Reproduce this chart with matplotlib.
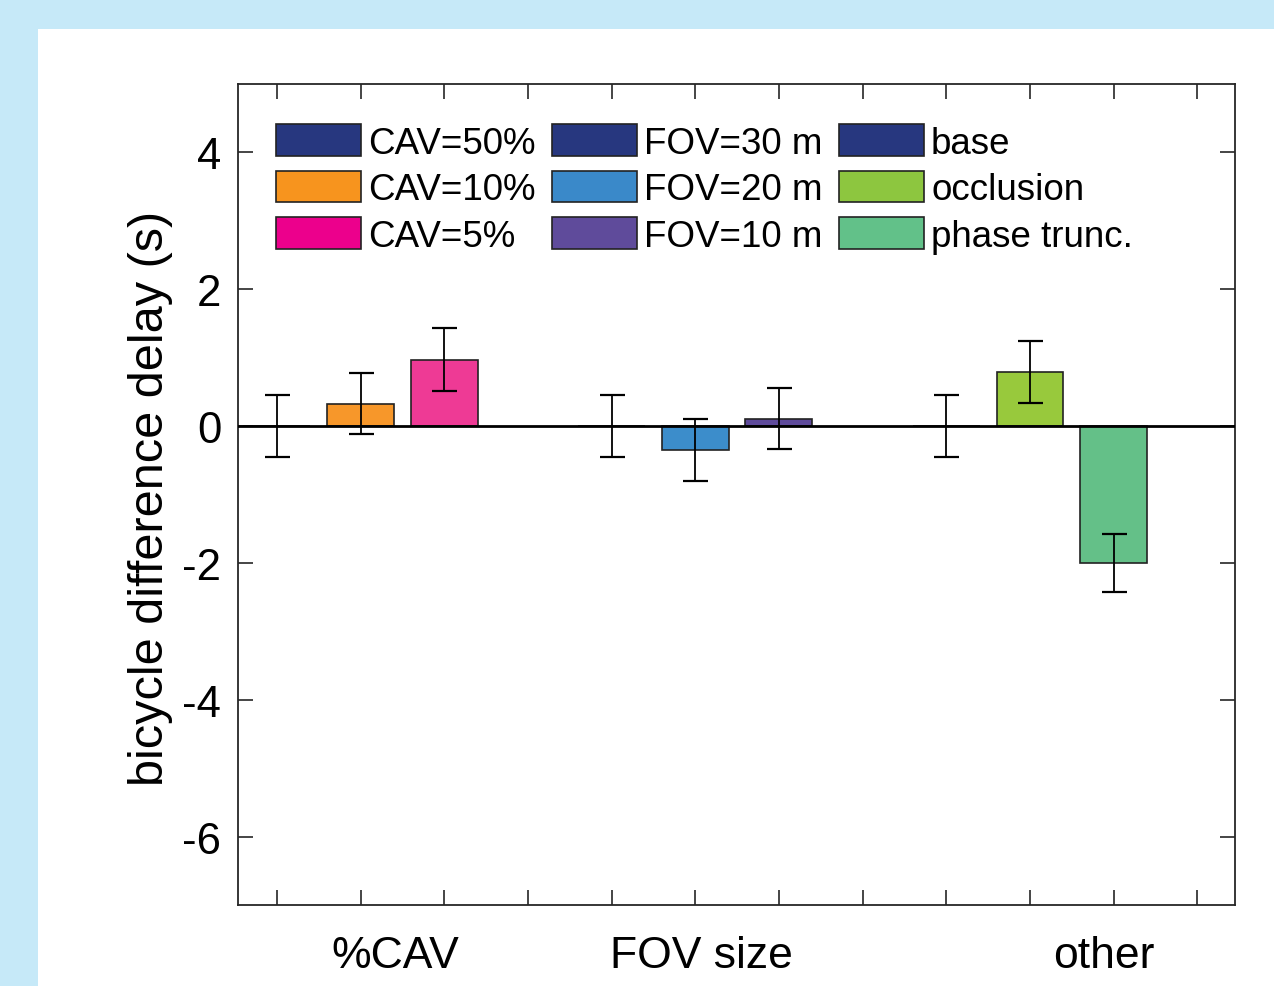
import matplotlib
matplotlib.use("Agg")
import matplotlib.pyplot as plt
from matplotlib.patches import Patch, Rectangle
from matplotlib.transforms import blended_transform_factory

plt.rcParams['font.family'] = ['Liberation Sans', 'DejaVu Sans']
plt.rcParams['axes.unicode_minus'] = False

# ---- data ----
positions = [1, 2, 3, 5, 6, 7, 9, 10, 11]
values = [0.0, 0.33, 0.97, 0.0, -0.35, 0.11, 0.0, 0.79, -2.0]
errors = [0.45, 0.45, 0.46, 0.45, 0.45, 0.45, 0.45, 0.45, 0.42]
bar_colors = ['#283A80', '#F7972A', '#EE3A95', '#283A80', '#3C8DCB',
              '#5F4B9B', '#283A80', '#98C93C', '#64C088']
legend_labels = ['CAV=50%', 'CAV=10%', 'CAV=5%',
                 'FOV=30 m', 'FOV=20 m', 'FOV=10 m',
                 'base', 'occlusion', 'phase trunc.']
legend_colors = ['#27377F', '#F7941E', '#EC008C', '#27377F', '#3A89C9',
                 '#5F4B9B', '#27377F', '#8DC63F', '#62C189']
group_labels = ['%CAV', 'FOV size', 'other']
group_positions = [2.42, 6.07, 10.88]
ytick_vals = [-6, -4, -2, 0, 2, 4]
xtick_vals = list(range(1, 13))

W, H = 1274, 987
fig = plt.figure(figsize=(W / 100, H / 100), dpi=100)
fig.patch.set_facecolor('#C6E9F8')
fig.add_artist(Rectangle((38 / W, 0), 1 - 38 / W, (H - 30) / H,
                         transform=fig.transFigure, facecolor='white',
                         edgecolor='none', zorder=0))

ax = fig.add_axes([238 / W, (H - 906) / H, (1235 - 238) / W, (906 - 85) / H])
ax.set_facecolor('white')

ax.bar(positions, values, width=0.8, color=bar_colors, edgecolor='#222222',
       linewidth=1.2, zorder=2)
ax.errorbar(positions, values, yerr=errors, fmt='none', ecolor='black',
            elinewidth=1.3, capsize=9, capthick=1.6, zorder=3)
ax.axhline(0, color='black', linewidth=2, zorder=4)

ax.set_xlim(0.535, 12.45)
ax.set_ylim(-7, 5)
ax.set_yticks(ytick_vals)
ax.set_yticklabels([str(v) for v in ytick_vals])
ax.set_xticks(xtick_vals)
ax.set_xticklabels([])
ax.tick_params(axis='both', direction='in', length=11, width=1.2,
               top=True, right=True, labelsize=31.5, pad=12, color='#262626')
for s in ax.spines.values():
    s.set_linewidth(1.3)
    s.set_color('#262626')

ax.set_ylabel('bicycle difference delay (s)', fontsize=35)
ax.yaxis.set_label_coords(-0.088, 0.497)
ax.yaxis.label.set_va('center')

tr = blended_transform_factory(ax.transData, ax.transAxes)
for gx, gl in zip(group_positions, group_labels):
    ax.text(gx, -0.062, gl, transform=tr, ha='center', va='center', fontsize=32)

handles = [Patch(facecolor=c, edgecolor='#222222', linewidth=1.2) for c in legend_colors]
ax.legend(handles, legend_labels, ncol=3, loc='upper left',
          bbox_to_anchor=(0.038, 0.951), frameon=False, fontsize=26.5,
          handlelength=2.3, handleheight=0.95, handletextpad=0.2,
          columnspacing=0.45, labelspacing=0.27, borderpad=0, borderaxespad=0)

fig.savefig('out.png', dpi=100, facecolor=fig.get_facecolor())
